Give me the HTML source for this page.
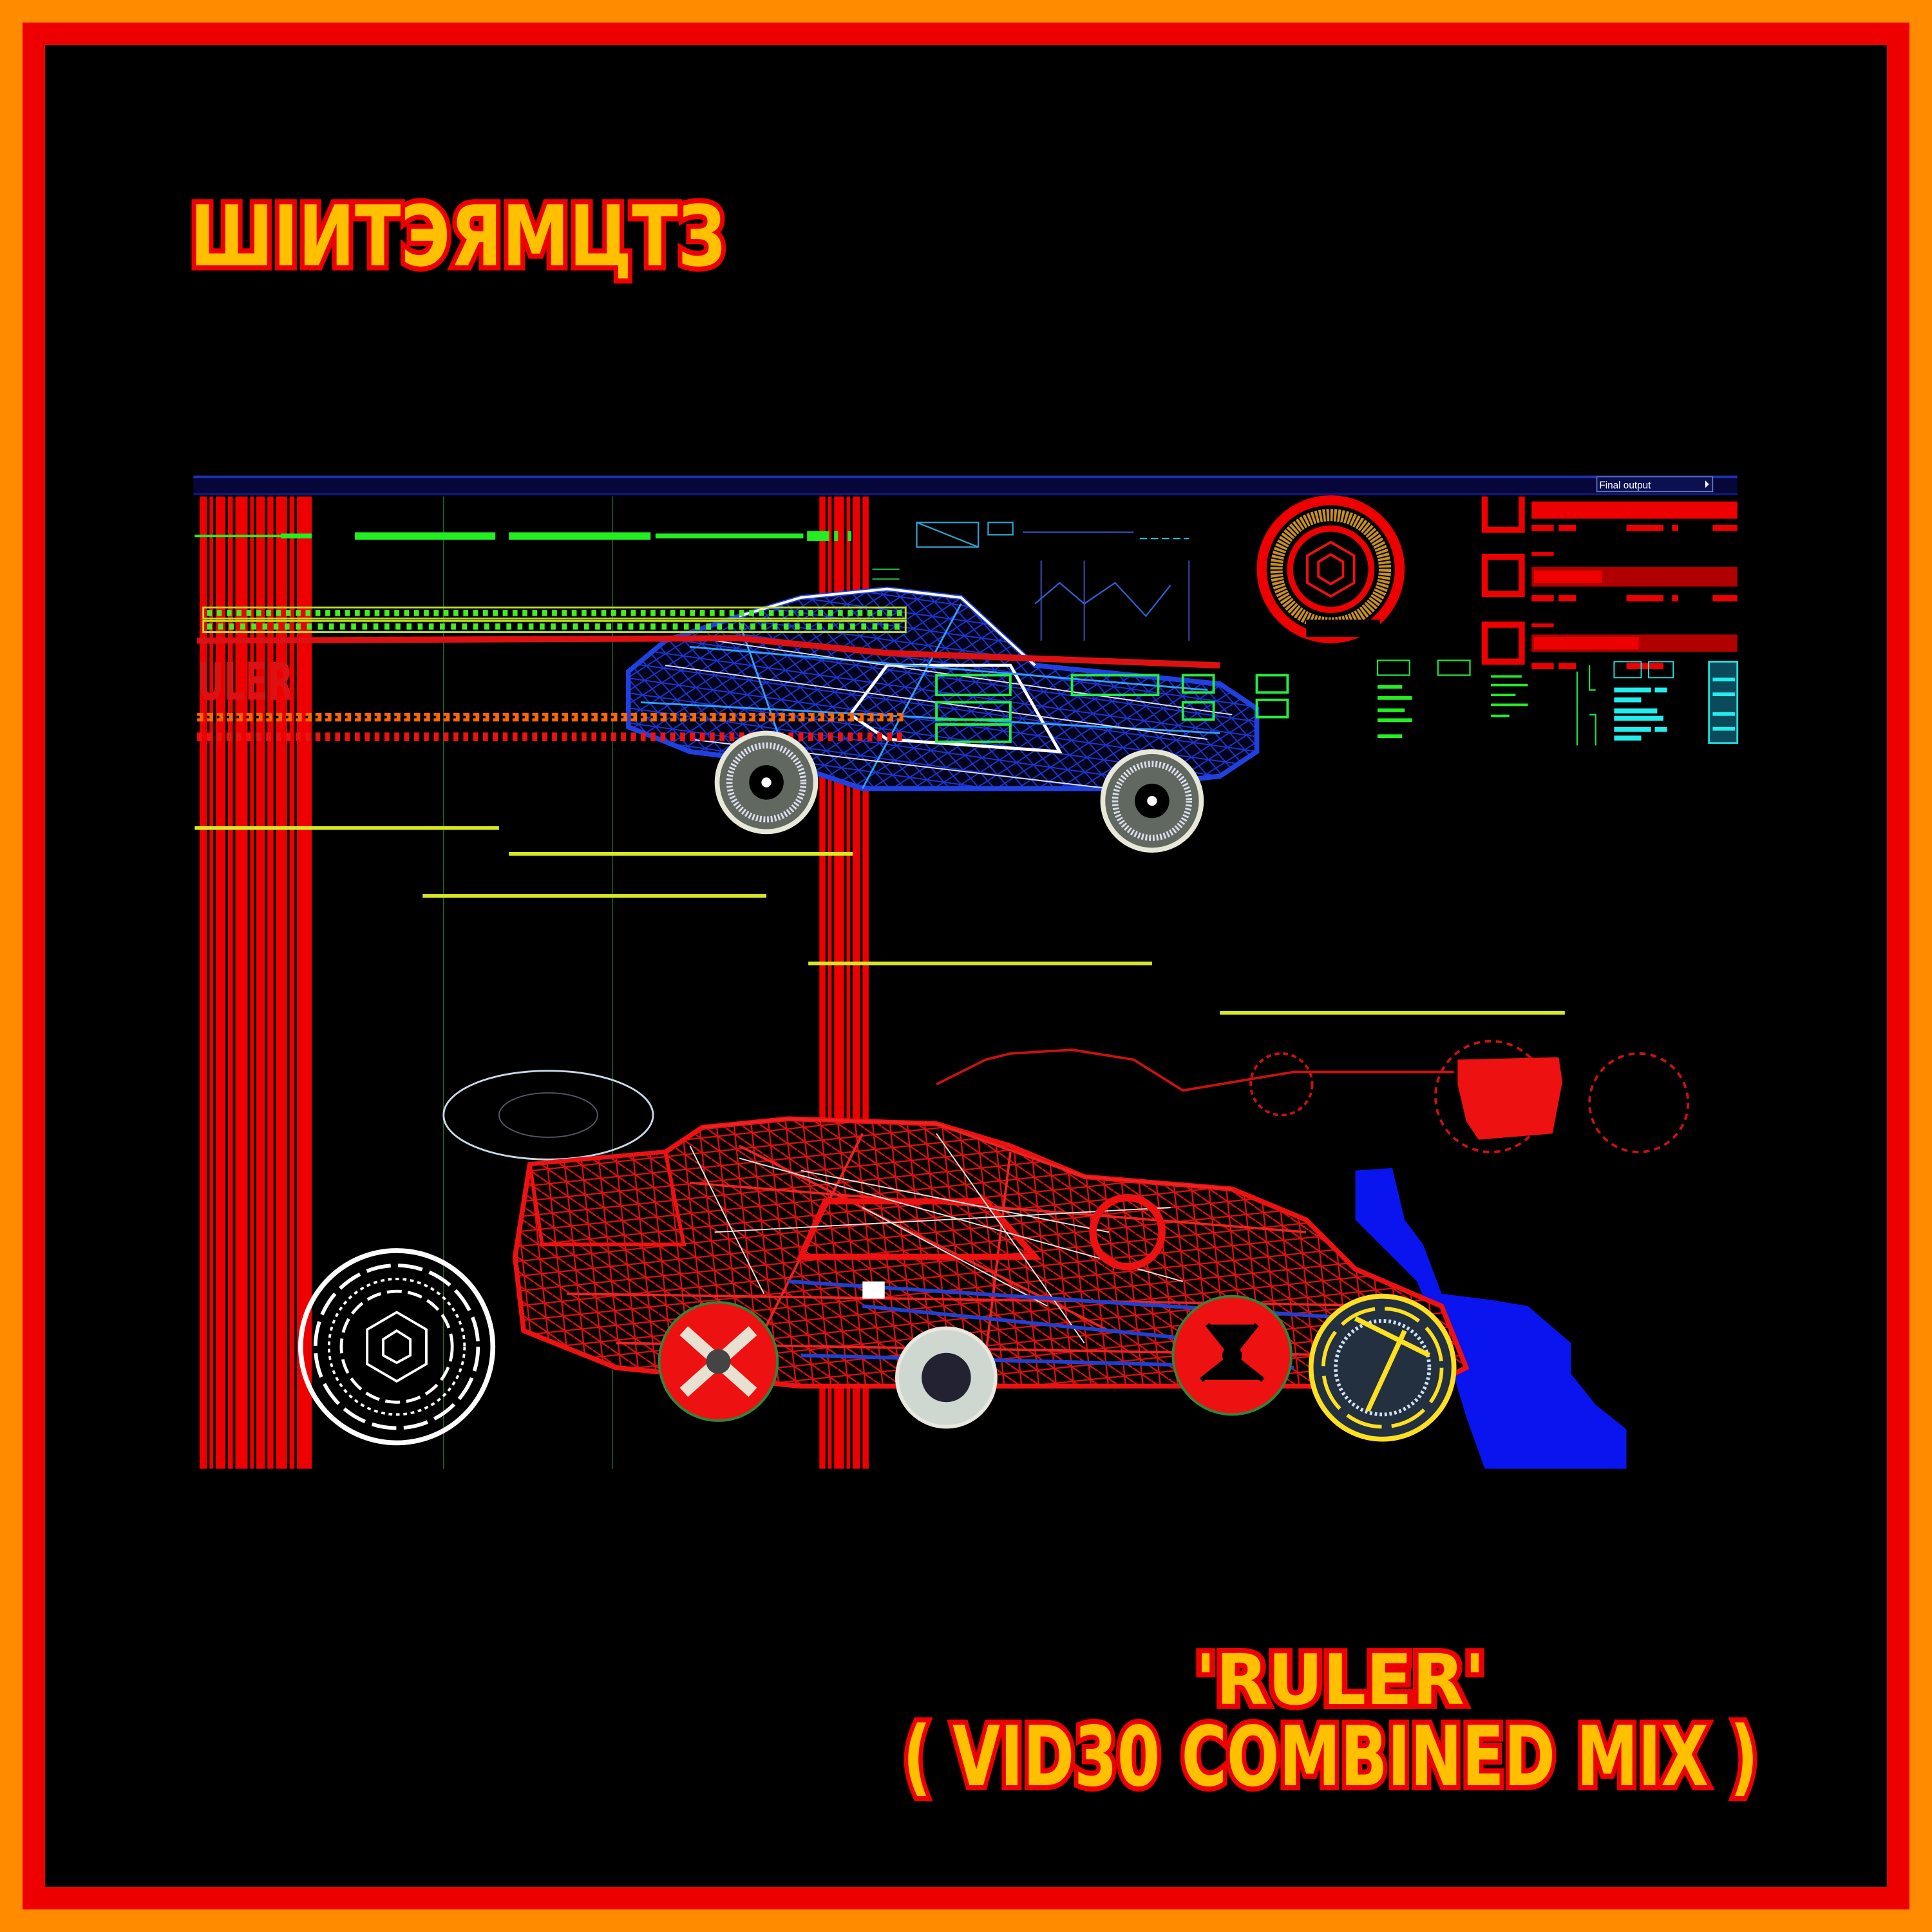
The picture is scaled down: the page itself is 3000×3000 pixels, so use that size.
<!DOCTYPE html>
<html><head><meta charset="utf-8"><style>
html,body{margin:0;padding:0;background:#000}
#wrap{position:relative;width:3000px;height:3000px;background:#ff8c00;overflow:hidden}
#red{position:absolute;left:35px;top:35px;width:2930px;height:2930px;background:#ee0000}
#blk{position:absolute;left:70px;top:70px;width:2860px;height:2860px;background:#000}
svg{position:absolute;left:0;top:0}
</style></head><body><div id="wrap"><div id="red"></div><div id="blk"></div>
<svg width="3000" height="3000" viewBox="0 0 1568 1568" xmlns="http://www.w3.org/2000/svg">
<defs>
<pattern id="bm" width="14" height="12" patternUnits="userSpaceOnUse" patternTransform="rotate(8)">
<rect width="14" height="12" fill="#02031a"/>
<path d="M0 0 L14 12 M14 0 L0 12 M0 6 H14" stroke="#1a36d0" stroke-width="1"/>
</pattern>
<pattern id="rm" width="14" height="12" patternUnits="userSpaceOnUse" patternTransform="rotate(-6)">
<rect width="14" height="12" fill="#0a0000"/>
<path d="M0 0 L14 12 M0 6 H14 M7 0 V12" stroke="#dd1111" stroke-width="1.2"/>
</pattern>
</defs>
<!-- top bar -->
<rect x="157" y="386" width="1253" height="16" fill="#06063a"/>
<rect x="157" y="386" width="1253" height="2" fill="#2030b0"/>
<rect x="157" y="400" width="1253" height="2" fill="#101878"/>
<rect x="1296" y="387" width="94" height="12" fill="#0a1050" stroke="#7080c0" stroke-width="0.8"/>
<text x="1298" y="396.5" font-family="Liberation Sans, sans-serif" font-size="8" fill="#fff">Final output</text>
<path d="M1384 390 l3 3 l-3 3z" fill="#fff"/>
<!-- red stripes left -->
<g fill="#ee0000">
<rect x="162" y="403" width="6" height="789"/><rect x="170" y="403" width="3" height="789"/>
<rect x="175" y="403" width="8" height="789"/><rect x="185" y="403" width="4" height="789"/>
<rect x="191" y="403" width="10" height="789"/><rect x="203" y="403" width="3" height="789"/>
<rect x="208" y="403" width="7" height="789"/><rect x="217" y="403" width="5" height="789"/>
<rect x="224" y="403" width="9" height="789"/><rect x="235" y="403" width="4" height="789"/>
<rect x="241" y="403" width="12" height="789"/>
<rect x="665" y="403" width="5" height="789"/><rect x="672" y="403" width="3" height="789"/>
<rect x="677" y="403" width="8" height="789"/><rect x="687" y="403" width="3" height="789"/>
<rect x="692" y="403" width="6" height="789"/><rect x="700" y="403" width="5" height="789"/>
</g>
<line x1="360" y1="403" x2="360" y2="1192" stroke="#1a6a1a" stroke-width="0.8"/>
<line x1="497" y1="403" x2="497" y2="1192" stroke="#1a6a1a" stroke-width="0.8"/>
<!-- green dashed line -->
<g fill="#22ee22">
<rect x="158" y="434" width="70" height="2"/><rect x="228" y="433" width="25" height="4"/>
<rect x="288" y="432" width="114" height="6"/><rect x="413" y="432" width="115" height="6"/>
<rect x="532" y="433" width="120" height="4"/><rect x="655" y="431" width="18" height="8"/><rect x="677" y="431" width="3" height="8"/><rect x="688" y="431" width="3" height="8"/>
</g>
<!-- blue car -->
<g fill="none" stroke-width="2">
<path d="M510 545 L540 520 L600 500 L650 485 L720 478 L780 485 L840 540 L990 555 L1020 575 L1020 610 L990 630 L900 640 L700 640 L640 620 L560 610 L510 590 Z" fill="url(#bm)" stroke="#2040e0" stroke-width="4"/>
<path d="M600 500 L650 485 L720 478 L780 485 L840 540" stroke="#fff"/>
<path d="M690 580 L720 540 L820 540 L860 610 L720 600 Z" stroke="#fff" stroke-width="2.5"/>
<path d="M560 525 L980 560 M520 570 L990 595 M600 505 L640 620 M780 490 L700 640" stroke="#30a0ff" stroke-width="1.5"/>
<path d="M540 540 L980 600 M580 520 L1000 580 M560 600 L900 640" stroke="#e0e0ff" stroke-width="1"/>
<rect x="760" y="548" width="60" height="16" stroke="#22ee44"/><rect x="760" y="570" width="60" height="14" stroke="#22ee44"/>
<rect x="870" y="548" width="70" height="16" stroke="#22ee44"/><rect x="960" y="570" width="25" height="14" stroke="#22ee44"/>
<rect x="1020" y="548" width="25" height="14" stroke="#22ee44"/><rect x="1020" y="568" width="25" height="14" stroke="#22ee44"/>
<rect x="960" y="548" width="25" height="14" stroke="#22ee44"/><rect x="760" y="588" width="60" height="14" stroke="#22ee44"/>
</g>
<!-- checker bands (over car) -->
<g>
<rect x="165" y="493" width="570" height="9" fill="none" stroke="#c0e020" stroke-width="1.5"/>
<rect x="165" y="504" width="570" height="9" fill="none" stroke="#c0e020" stroke-width="1.5"/>
<line x1="168" y1="497.5" x2="732" y2="497.5" stroke="#44ee22" stroke-width="5" stroke-dasharray="4 4"/>
<line x1="168" y1="508.5" x2="732" y2="508.5" stroke="#44ee22" stroke-width="5" stroke-dasharray="4 5"/>
</g>
<path d="M160 520 L600 518 L720 530 L990 540" stroke="#dd1111" stroke-width="5" fill="none"/>
<text x="160" y="568" font-family="DejaVu Sans Condensed, sans-serif" font-weight="bold" font-size="42" fill="#dd1111" textLength="78" lengthAdjust="spacingAndGlyphs">ULER</text>
<!-- dotted rows -->
<line x1="160" y1="582" x2="735" y2="582" stroke="#ff6600" stroke-width="7" stroke-dasharray="5 3"/>
<line x1="160" y1="582" x2="735" y2="582" stroke="#000" stroke-width="2" stroke-dasharray="2 6"/>
<line x1="160" y1="598" x2="735" y2="598" stroke="#ee1111" stroke-width="7" stroke-dasharray="4 4"/>
<g>
<circle cx="622" cy="635" r="40" fill="#606860" stroke="#e8e8d8" stroke-width="4"/>
<circle cx="622" cy="635" r="30" fill="none" stroke="#dde" stroke-width="5" stroke-dasharray="1.5 1.5"/>
<circle cx="622" cy="635" r="14" fill="#000"/><circle cx="622" cy="635" r="4" fill="#fff"/>
<circle cx="935" cy="650" r="40" fill="#606860" stroke="#e8e8d8" stroke-width="4"/>
<circle cx="935" cy="650" r="30" fill="none" stroke="#dde" stroke-width="5" stroke-dasharray="1.5 1.5"/>
<circle cx="935" cy="650" r="14" fill="#000"/><circle cx="935" cy="650" r="4" fill="#fff"/>
</g>
<!-- graph stuff -->
<g fill="none" stroke-width="1.2">
<rect x="744" y="424" width="50" height="20" stroke="#30a0d0"/><path d="M744 424 L794 444" stroke="#30a0d0"/>
<rect x="802" y="424" width="20" height="10" stroke="#30a0d0"/>
<path d="M830 432 L920 432" stroke="#3050c0"/><path d="M925 437 L965 437" stroke="#20c0d0" stroke-dasharray="6 3"/>
<path d="M845 455 L845 520 M880 455 L880 520 M965 455 L965 520" stroke="#3040a0"/>
<path d="M840 490 L860 473 L880 490 L905 473 L930 500 L950 475" stroke="#3060d0"/>
<path d="M708 462 L730 462 M708 470 L730 470" stroke="#22aa44"/>
</g>
<!-- gauge -->
<circle cx="1080" cy="462" r="56" fill="none" stroke="#ee0000" stroke-width="8"/>
<circle cx="1080" cy="462" r="44" fill="none" stroke="#c89020" stroke-width="10" stroke-dasharray="2 1"/>
<circle cx="1080" cy="462" r="33" fill="none" stroke="#ee0000" stroke-width="5"/>
<path d="M1080 440 L1099 451 L1099 473 L1080 484 L1061 473 L1061 451 Z" fill="none" stroke="#ee1111" stroke-width="2"/>
<path d="M1080 450 L1090 456 L1090 468 L1080 474 L1070 468 L1070 456 Z" fill="none" stroke="#ee1111" stroke-width="2"/>
<path d="M1060 510 L1120 510" stroke="#000" stroke-width="14"/>
<!-- right panel -->
<g fill="none" stroke="#ee0000" stroke-width="5">
<path d="M1205 403 V430 H1235 V403"/>
<rect x="1205" y="452" width="30" height="30"/>
<rect x="1205" y="507" width="30" height="30"/>
</g>
<g fill="#ee0000">
<rect x="1243" y="407" width="167" height="14"/>
<rect x="1243" y="460" width="167" height="16" fill="#b00000"/><rect x="1245" y="463" width="55" height="10"/>
<rect x="1243" y="515" width="167" height="14" fill="#b00000"/><rect x="1245" y="517" width="85" height="10"/>
<rect x="1243" y="426" width="18" height="5"/><rect x="1265" y="426" width="14" height="5"/><rect x="1320" y="426" width="30" height="5"/><rect x="1357" y="426" width="5" height="5"/><rect x="1390" y="426" width="20" height="5"/>
<rect x="1243" y="483" width="18" height="5"/><rect x="1265" y="483" width="14" height="5"/><rect x="1320" y="483" width="30" height="5"/><rect x="1357" y="483" width="5" height="5"/><rect x="1390" y="483" width="20" height="5"/>
<rect x="1243" y="506" width="18" height="3"/><rect x="1243" y="448" width="18" height="3"/>
<rect x="1243" y="538" width="18" height="5"/><rect x="1265" y="538" width="14" height="5"/><rect x="1320" y="538" width="30" height="5"/>
</g>
<g fill="none" stroke="#22dd44" stroke-width="1.2">
<rect x="1118" y="536" width="26" height="12"/><rect x="1167" y="536" width="26" height="12"/>
<path d="M1280 545 V605 M1290 540 V560 H1295 M1290 580 H1295 V605"/>
</g>
<g fill="#22ee22">
<rect x="1118" y="556" width="20" height="3"/><rect x="1118" y="565" width="28" height="3"/><rect x="1118" y="575" width="22" height="3"/><rect x="1118" y="583" width="28" height="3"/><rect x="1118" y="596" width="20" height="3"/>
<rect x="1210" y="548" width="25" height="2"/><rect x="1210" y="555" width="30" height="2"/><rect x="1210" y="563" width="20" height="2"/><rect x="1210" y="571" width="30" height="2"/><rect x="1210" y="580" width="15" height="2"/>
</g>
<g fill="#22eeee">
<rect x="1310" y="537" width="22" height="13" fill="none" stroke="#22dddd" stroke-width="1"/><rect x="1338" y="537" width="20" height="13" fill="none" stroke="#22dddd" stroke-width="1"/>
<rect x="1310" y="558" width="30" height="4"/><rect x="1343" y="558" width="10" height="4"/><rect x="1310" y="566" width="22" height="4"/>
<rect x="1310" y="575" width="35" height="4"/><rect x="1310" y="581" width="40" height="4"/>
<rect x="1310" y="590" width="30" height="4"/><rect x="1343" y="590" width="10" height="4"/><rect x="1310" y="597" width="22" height="4"/>
<rect x="1387" y="537" width="23" height="66" fill="#0a4a5a" stroke="#22dddd" stroke-width="1.5"/>
<rect x="1390" y="550" width="18" height="3"/><rect x="1390" y="562" width="18" height="3"/><rect x="1390" y="578" width="18" height="3"/><rect x="1390" y="590" width="18" height="3"/>
</g>
<!-- yellow lines -->
<g stroke="#d8e820" stroke-width="3">
<line x1="158" y1="672" x2="405" y2="672"/><line x1="413" y1="693" x2="692" y2="693"/>
<line x1="343" y1="727" x2="622" y2="727"/><line x1="656" y1="782" x2="935" y2="782"/>
<line x1="990" y1="822" x2="1270" y2="822"/>
</g>
<!-- faint red car top right -->
<g fill="none" stroke="#cc1111" stroke-width="2">
<path d="M760 880 L800 860 L820 855 L870 852 L920 860 L960 885 L1050 870 L1180 870"/>
<circle cx="1040" cy="880" r="25" stroke-dasharray="4 3"/>
<circle cx="1330" cy="895" r="40" stroke-dasharray="5 4"/>
<circle cx="1210" cy="890" r="45" stroke-dasharray="5 4"/>
</g>
<path d="M1183 860 L1265 858 L1268 878 L1260 920 L1200 925 L1190 910 L1183 880 Z" fill="#ee1111"/>
<!-- ellipse -->
<ellipse cx="445" cy="905" rx="85" ry="36" fill="none" stroke="#c8d8e8" stroke-width="1.5"/>
<ellipse cx="445" cy="905" rx="40" ry="18" fill="none" stroke="#556" stroke-width="1"/>
<!-- blue blob -->
<path d="M1100 950 L1130 948 L1140 990 L1155 1010 L1170 1050 L1210 1055 L1240 1060 L1275 1090 L1275 1115 L1295 1140 L1320 1160 L1320 1192 L1205 1192 L1190 1150 L1175 1100 L1150 1040 L1120 1010 L1100 990 Z" fill="#0a14ee"/>
<!-- bottom red car -->
<g fill="none">
<path d="M430 945 L540 935 L570 915 L640 908 L760 912 L820 930 L880 955 L1000 965 L1060 990 L1100 1030 L1170 1060 L1190 1110 L1150 1130 L1060 1125 L650 1125 L500 1110 L425 1080 L418 1020 Z" fill="url(#rm)" stroke="#ee1111" stroke-width="4"/>
<path d="M430 945 L540 935 L555 1010 L440 1010 Z" fill="url(#rm)" stroke="#ee1111" stroke-width="3"/>
<path d="M570 915 L640 908 L760 912 L880 955 L1000 965 M560 960 L1060 1000 M600 930 L900 1080 M700 920 L620 1080 M820 935 L800 1100 M460 1050 L1150 1060 M500 1090 L1100 1100" stroke="#ee2222" stroke-width="2"/>
<path d="M650 1020 L670 975 L800 975 L840 1020 Z" stroke="#ee1111" stroke-width="5"/>
<path d="M600 940 L960 1040 M650 950 L900 1000 M700 980 L850 1060 M580 1000 L950 980 M560 930 L620 1050 M760 920 L880 1090" stroke="#e8e8e0" stroke-width="1"/>
<path d="M640 1040 L1100 1070 M700 1060 L1000 1090 M650 1100 L1050 1110" stroke="#2040d0" stroke-width="3"/>
<circle cx="915" cy="1000" r="28" stroke="#ee1111" stroke-width="6"/>
<rect x="700" y="1040" width="18" height="14" fill="#fff"/>
</g>
<!-- wheels bottom -->
<circle cx="322" cy="1093" r="78" fill="none" stroke="#fff" stroke-width="4"/>
<circle cx="322" cy="1093" r="66" fill="none" stroke="#fff" stroke-width="3" stroke-dasharray="20 6"/>
<circle cx="322" cy="1093" r="55" fill="none" stroke="#fff" stroke-width="2" stroke-dasharray="3 3"/>
<circle cx="322" cy="1093" r="45" fill="none" stroke="#fff" stroke-width="2.5" stroke-dasharray="12 5"/>
<path d="M322 1065 L346 1079 L346 1107 L322 1121 L298 1107 L298 1079 Z" fill="none" stroke="#fff" stroke-width="2"/>
<path d="M322 1080 L333 1087 L333 1100 L322 1106 L311 1100 L311 1087 Z" fill="none" stroke="#fff" stroke-width="2"/>
<circle cx="583" cy="1105" r="48" fill="#ee1111" stroke="#2a8a3a" stroke-width="2"/>
<path d="M555 1080 L611 1130 M611 1080 L555 1130" stroke="#e8e0d0" stroke-width="10"/>
<circle cx="583" cy="1105" r="10" fill="#444"/>
<circle cx="768" cy="1118" r="40" fill="#cfd8d0" stroke="#e8e8e0" stroke-width="3"/>
<circle cx="768" cy="1118" r="20" fill="#223"/>
<circle cx="1000" cy="1100" r="48" fill="#ee1111" stroke="#2a8a3a" stroke-width="2"/>
<path d="M980 1075 L1000 1100 L1020 1075 M975 1120 L1000 1100 L1025 1120" stroke="#000" stroke-width="4"/>
<circle cx="1000" cy="1100" r="8" fill="#000"/>
<circle cx="1122" cy="1110" r="58" fill="#223040" stroke="#ffe020" stroke-width="4"/>
<circle cx="1122" cy="1110" r="48" fill="none" stroke="#ffe020" stroke-width="3" stroke-dasharray="30 8"/>
<circle cx="1122" cy="1110" r="38" fill="none" stroke="#cfe0f0" stroke-width="3" stroke-dasharray="2 2"/>
<path d="M1100 1070 L1160 1100 M1110 1145 L1140 1080" stroke="#ffe020" stroke-width="4"/>
</svg>
<svg width="3000" height="3000" viewBox="0 0 3000 3000" xmlns="http://www.w3.org/2000/svg">
<g font-family="DejaVu Sans Condensed, Liberation Sans Narrow, sans-serif" font-weight="bold" fill="#ffc000" stroke="#ee0000" stroke-width="16" stroke-linejoin="miter" paint-order="stroke">
<text x="295" y="412" font-size="130" textLength="832" lengthAdjust="spacingAndGlyphs">ШIИTЭЯMЦTЗ</text>
<text x="1856" y="2646" font-size="108" textLength="450" lengthAdjust="spacingAndGlyphs">'RULER'</text>
<text x="1402" y="2772" font-size="128" textLength="1328" lengthAdjust="spacingAndGlyphs">( VID30 COMBINED MIX )</text>
</g>
</svg>
</div></body></html>
